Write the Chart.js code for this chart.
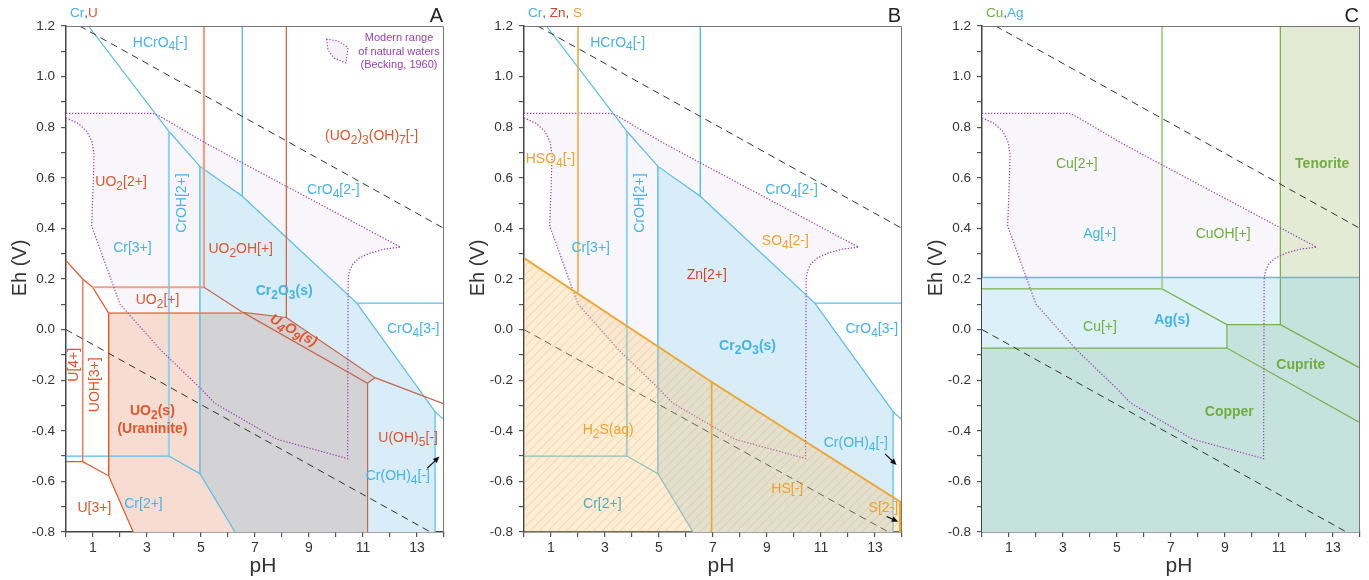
<!DOCTYPE html>
<html>
<head>
<meta charset="utf-8">
<title>Eh-pH diagrams</title>
<script src="https://cdn.jsdelivr.net/npm/chart.js@4.4.1/dist/chart.umd.min.js"></script>
<style>
  body { margin: 0; background: #fff; }
  #wrap { position: relative; width: 1369px; height: 580px; overflow: hidden; }
  canvas { position: absolute; top: 0; }
</style>
</head>
<body>
<div id="wrap">
  <canvas id="chartA" width="458" height="580" style="left:0"></canvas>
  <canvas id="chartB" width="458" height="580" style="left:458px"></canvas>
  <canvas id="chartC" width="458" height="580" style="left:916px"></canvas>
</div>
<script>
// axes
const phTicks = [1, 3, 5, 7, 9, 11, 13];
const ehTicks = [-0.8, -0.6, -0.4, -0.2, 0.0, 0.2, 0.4, 0.6, 0.8, 1.0, 1.2];

// water stability limits and natural waters (Becking, 1960)
const waterUpper = [[0.5, 1.2], [14, 0.4]];
const waterLower = [[0, 0], [13.5, -0.8]];
const naturalWaters = [[0, 0.855], [3.2, 0.855], [3.45, 0.845], [5.09, 0.742], [6.53, 0.659], [8.17, 0.566],
  [12.39, 0.326], [11.8, 0.318], [11.27, 0.303], [10.85, 0.282], [10.63, 0.26], [10.5, 0.232], [10.45, 0.2],
  [10.43, -0.51], [7.8, -0.433], [5.5, -0.29], [4.98, -0.232], [3.5, -0.08], [2.0, 0.10], [0.95, 0.41],
  [1.0, 0.55], [1.04, 0.69], [0.97, 0.74], [0.77, 0.784], [0.45, 0.815], [0, 0.837]];

// chromium
const crUpper = [[0.83, 1.2], [3.81, 0.784], [4.96, 0.645], [6.53, 0.527], [10.77, 0.105], [13.67, -0.324], [14, -0.357]];
const crHydroxy = [[3.81, 0.784], [3.81, -0.5]];
const crOxideEdge = [[4.96, 0.645], [4.96, -0.57]];
const crChromate = [[6.53, 1.2], [6.53, 0.527]];
const crO4Split = [[10.77, 0.105], [14, 0.105]];
const crOH4Edge = [[13.67, -0.324], [13.67, -0.8]];
const crLower = [[0, -0.5], [3.81, -0.5], [4.96, -0.57], [6.26, -0.8]];
const cr2o3Field = [[4.96, 0.645], [6.53, 0.527], [10.77, 0.105], [13.67, -0.324], [13.67, -0.8], [6.26, -0.8], [4.96, -0.57]];

// uranium
const uLeft = [[0, 0.273], [0.62, 0.2], [0.99, 0.167], [1.58, 0.065]];
const uUO2p = [[0.99, 0.167], [5.11, 0.167]];
const uUO2OH = [[5.11, 1.2], [5.11, 0.167]];
const uUO2pRight = [[5.11, 0.167], [6.55, 0.068]];
const uHeptahydroxo = [[8.16, 1.2], [8.16, 0.048]];
const u4o9Upper = [[6.55, 0.068], [8.16, 0.048], [11.44, -0.19], [14, -0.294]];
const u4o9Lower = [[6.55, 0.068], [11.17, -0.212], [11.44, -0.19]];
const uUO2Top = [[1.58, 0.065], [6.55, 0.065]];
const uU4 = [[0.62, 0.2], [0.62, -0.522]];
const uLower = [[0, -0.522], [0.62, -0.522], [1.58, -0.578], [2.49, -0.8]];
const uUOH3 = [[1.58, 0.065], [1.58, -0.578]];
const uUraninite = [[11.17, -0.212], [11.17, -0.8]];
const uo2Field = [[1.58, 0.065], [6.55, 0.065], [11.17, -0.212], [11.17, -0.8], [2.49, -0.8], [1.58, -0.578]];
const uo2CrField = [[4.96, 0.065], [6.55, 0.065], [11.17, -0.212], [11.17, -0.8], [6.26, -0.8], [4.96, -0.57]];
const u4o9Field = [[6.55, 0.068], [8.16, 0.048], [11.44, -0.19], [11.17, -0.212]];

// sulfur
const sSulfide = [[0, 0.283], [6.95, -0.207], [14, -0.685]];
const sBisulfate = [[2.0, 1.2], [2.0, 0.146]];
const sH2S = [[6.95, -0.207], [6.95, -0.8]];
const sS2 = [[13.93, -0.68], [13.93, -0.8]];
const sulfideField = [[0, 0.283], [6.95, -0.207], [14, -0.685], [14, -0.8], [0, -0.8]];

// copper and silver
const cuCupric = [[0, 0.161], [6.67, 0.161], [9.07, 0.02], [11.05, 0.02]];
const cuHydroxy = [[6.67, 1.2], [6.67, 0.161]];
const cuTenorite = [[11.05, 1.2], [11.05, 0.02], [14, -0.152]];
const cuCuprite = [[9.07, 0.02], [9.07, -0.073]];
const cuCopper = [[0, -0.073], [9.07, -0.073], [14, -0.368]];
const agLine = [[0, 0.206], [14, 0.206]];
const tenoriteField = [[11.05, 1.2], [14, 1.2], [14, -0.152], [11.05, 0.02]];
const agField = [[0, 0.206], [14, 0.206], [14, -0.8], [0, -0.8]];
const tenoriteAgField = [[11.05, 0.206], [14, 0.206], [14, -0.152], [11.05, 0.02]];
const copperField = [[0, -0.073], [9.07, -0.073], [14, -0.368], [14, -0.8], [0, -0.8]];
const cupriteField = [[9.07, 0.02], [11.05, 0.02], [14, -0.152], [14, -0.368], [9.07, -0.073]];

const FONT = '"Liberation Sans", Arial, Helvetica, sans-serif';
const CR = '#43b4e6', UR = '#e2542a', SO = '#efa22a', ZN = '#d8442a', CU = '#6fae3f', AG = '#45b5e8', PURPLE = '#9a40b5';
const CR_LINE = '#56bde9', CR_SOFT = '#8fd2f0', U_LINE = '#e2572b', U_SOFT = '#eba18a', U_DARK = '#c9644c';
const S_LINE = '#f0a732', CU_LINE = '#77b24a', CU_SOFT = '#a9d28c';

function pts(a) { return a.map(p => ({x: p[0], y: p[1]})); }
function stroke(a, color, width, dash) {
  return {data: pts(a), borderColor: color, borderWidth: width || 1.2, borderDash: dash || [], fill: false, pointRadius: 0, tension: 0};
}
function field(a, color) {
  return {data: pts(a), borderColor: 'rgba(0,0,0,0)', borderWidth: 0, backgroundColor: color, fill: 'shape', pointRadius: 0, tension: 0};
}

function hatch() {
  const c = document.createElement('canvas');
  c.width = 9; c.height = 9;
  const g = c.getContext('2d');
  g.fillStyle = 'rgba(244,200,110,0.30)';
  g.fillRect(0, 0, 9, 9);
  g.strokeStyle = 'rgba(230,150,120,0.28)';
  g.lineWidth = 1.2;
  g.beginPath();
  g.moveTo(-1, 10); g.lineTo(10, -1);
  g.moveTo(-1, 1); g.lineTo(1, -1);
  g.moveTo(8, 10); g.lineTo(10, 8);
  g.stroke();
  return g.createPattern(c, 'repeat');
}

// draws a formula, "_x" makes x a subscript
function drawFormula(ctx, text, x, y, o) {
  const size = o.size || 14;
  const pre = (o.italic ? 'italic ' : '') + (o.bold ? 'bold ' : '');
  const mainFont = pre + size + 'px ' + FONT;
  const subFont = pre + Math.round(size * 0.86) + 'px ' + FONT;
  const parts = [];
  for (let i = 0; i < text.length; i++) {
    const sub = text[i] === '_';
    const ch = sub ? text[++i] : text[i];
    const last = parts[parts.length - 1];
    if (last && !last.sub && !sub) last.t += ch;
    else parts.push({t: ch, sub: sub});
  }
  ctx.save();
  ctx.translate(x, y);
  if (o.rot) ctx.rotate(o.rot * Math.PI / 180);
  let w = 0;
  parts.forEach(p => { ctx.font = p.sub ? subFont : mainFont; p.w = ctx.measureText(p.t).width; w += p.w; });
  let cx = o.align === 'left' ? 0 : -w / 2;
  ctx.textBaseline = 'middle';
  ctx.textAlign = 'left';
  ctx.fillStyle = o.color;
  parts.forEach(p => {
    ctx.font = p.sub ? subFont : mainFont;
    ctx.fillText(p.t, cx, p.sub ? size * 0.32 : 0);
    cx += p.w;
  });
  ctx.restore();
}

function drawArrow(ctx, x1, y1, x2, y2) {
  const ang = Math.atan2(y2 - y1, x2 - x1);
  ctx.save();
  ctx.strokeStyle = ctx.fillStyle = '#111';
  ctx.lineWidth = 1.2;
  ctx.beginPath();
  ctx.moveTo(x1, y1);
  ctx.lineTo(x2 - 5 * Math.cos(ang), y2 - 5 * Math.sin(ang));
  ctx.stroke();
  ctx.beginPath();
  ctx.moveTo(x2, y2);
  ctx.lineTo(x2 - 7 * Math.cos(ang - 0.42), y2 - 7 * Math.sin(ang - 0.42));
  ctx.lineTo(x2 - 7 * Math.cos(ang + 0.42), y2 - 7 * Math.sin(ang + 0.42));
  ctx.closePath();
  ctx.fill();
  ctx.restore();
}

const notesPlugin = {
  id: 'notes',
  afterDatasetsDraw(chart, args, opts) {
    const {ctx, chartArea: a, scales: {x, y}} = chart;
    // frame on top and right
    ctx.save();
    ctx.strokeStyle = '#777';
    ctx.lineWidth = 1;
    ctx.beginPath();
    ctx.moveTo(a.left, a.top + 0.5);
    ctx.lineTo(a.right - 0.5, a.top + 0.5);
    ctx.lineTo(a.right - 0.5, a.bottom);
    ctx.stroke();
    ctx.restore();

    opts.labels.forEach(l => drawFormula(ctx, l[0], x.getPixelForValue(l[1]), y.getPixelForValue(l[2]), l[3]));
    (opts.arrows || []).forEach(r => drawArrow(ctx,
      x.getPixelForValue(r[0][0]), y.getPixelForValue(r[0][1]),
      x.getPixelForValue(r[1][0]), y.getPixelForValue(r[1][1])));

    // element header
    ctx.save();
    ctx.font = '13.5px ' + FONT;
    ctx.textBaseline = 'middle';
    let hx = a.left + 4;
    opts.header.forEach(h => { ctx.fillStyle = h[1]; ctx.fillText(h[0], hx, 13); hx += ctx.measureText(h[0]).width; });
    // panel letter
    ctx.font = '20px ' + FONT;
    ctx.fillStyle = '#222';
    ctx.textAlign = 'right';
    ctx.fillText(opts.letter, a.right - 1, 16);
    // axis titles
    ctx.fillStyle = '#333';
    ctx.textAlign = 'center';
    ctx.font = '21px ' + FONT;
    ctx.fillText('pH', (a.left + a.right) / 2 + 8, 566);
    ctx.translate(a.left - 46, (a.top + a.bottom) / 2 - 11);
    ctx.rotate(-Math.PI / 2);
    ctx.font = '20px ' + FONT;
    ctx.fillText('Eh (V)', 0, 0);
    ctx.restore();

    if (opts.legend) {
      const lx = a.left, ly = a.top;
      const shape = [[260.5, 13], [272, 15], [282, 21.5], [280, 37], [268, 32], [262, 24]];
      ctx.save();
      ctx.beginPath();
      shape.forEach((p, i) => i ? ctx.lineTo(lx + p[0], ly + p[1]) : ctx.moveTo(lx + p[0], ly + p[1]));
      ctx.closePath();
      ctx.fillStyle = '#f6f2f9';
      ctx.fill();
      ctx.setLineDash([1.3, 1.7]);
      ctx.strokeStyle = PURPLE;
      ctx.lineWidth = 1.1;
      ctx.stroke();
      ctx.setLineDash([]);
      ctx.fillStyle = PURPLE;
      ctx.font = '11px ' + FONT;
      ctx.textAlign = 'center';
      ctx.textBaseline = 'middle';
      ctx.fillText('Modern range', lx + 333, ly + 12.3);
      ctx.fillText('of natural waters', lx + 333, ly + 25.7);
      ctx.fillText('(Becking, 1960)', lx + 333, ly + 39);
      ctx.restore();
    }
  }
};

function panel(id, layers, notes) {
  return new Chart(document.getElementById(id), {
    type: 'line',
    data: {datasets: layers.slice().reverse()},
    options: {
      responsive: false,
      animation: false,
      devicePixelRatio: 1,
      events: [],
      layout: {padding: {top: 26, right: 14, bottom: 0, left: 0}},
      plugins: {legend: {display: false}, tooltip: {enabled: false}, notes: notes},
      scales: {
        x: {
          type: 'linear', min: 0, max: 14,
          afterFit: s => { s.height = 48; },
          ticks: {stepSize: 1, autoSkip: false, maxRotation: 0, padding: 3, color: '#333', font: {size: 14, family: FONT},
            callback: v => phTicks.includes(v) ? String(v) : ''},
          grid: {drawOnChartArea: false, drawTicks: true, tickLength: 5, color: '#555', lineWidth: 1.2},
          border: {color: '#444', width: 1.5}
        },
        y: {
          type: 'linear', min: -0.8, max: 1.2,
          afterFit: s => { s.width = 66; },
          ticks: {stepSize: 0.1, maxTicksLimit: 40, autoSkip: false, padding: 6, color: '#333', font: {size: 13.5, family: FONT},
            callback: v => ehTicks.some(t => Math.abs(t - v) < 1e-6) ? (Math.round(v * 10) / 10).toFixed(1) : ''},
          grid: {drawOnChartArea: false, drawTicks: true, tickLength: 5, color: '#555', lineWidth: 1.2},
          border: {color: '#444', width: 1.5}
        }
      }
    },
    plugins: [notesPlugin]
  });
}

const LAVENDER = '#f9f6fb', CR_FILL = '#d8edf8', U_FILL = '#f7dcd2', GRAY = '#d3d3d5';
const water = [stroke(waterUpper, '#333', 1, [7, 5]), stroke(waterLower, '#333', 1, [7, 5])];
const nwLine = stroke(naturalWaters.concat([naturalWaters[0]]), PURPLE, 1.2, [1.3, 1.7]);
const crStrokes = [stroke(crUpper, CR_LINE), stroke(crHydroxy, CR_SOFT, 2), stroke(crOxideEdge, CR_LINE, 1.4),
  stroke(crChromate, CR_LINE, 1.4), stroke(crO4Split, CR_LINE), stroke(crOH4Edge, CR_LINE), stroke(crLower, CR_LINE)];

panel('chartA', [
  field(naturalWaters, LAVENDER),
  field(cr2o3Field, CR_FILL),
  field(uo2Field, U_FILL),
  field(uo2CrField, GRAY),
  field(u4o9Field, GRAY),
  ...crStrokes,
  stroke(uLeft, U_LINE), stroke(uUO2p, U_SOFT, 2), stroke(uUO2OH, U_SOFT, 2.2), stroke(uUO2pRight, U_DARK),
  stroke(uHeptahydroxo, U_LINE), stroke(u4o9Upper, U_DARK), stroke(u4o9Lower, U_DARK), stroke(uUO2Top, '#e98466', 1.8),
  stroke(uU4, '#e98466', 1.6), stroke(uLower, U_LINE), stroke(uUOH3, U_LINE, 1.4), stroke(uUraninite, U_DARK),
  ...water,
  nwLine
], {
  letter: 'A',
  legend: true,
  header: [['Cr', CR], [',', '#555'], ['U', UR]],
  labels: [
    ['HCrO_4[-]', 3.49, 1.134, {color: CR}],
    ['(UO_2)_3(OH)_7[-]', 11.32, 0.764, {color: UR}],
    ['UO_2[2+]', 2.04, 0.582, {color: UR}],
    ['CrOH[2+]', 4.32, 0.50, {color: CR, rot: -90}],
    ['CrO_4[2-]', 9.9, 0.55, {color: CR}],
    ['Cr[3+]', 2.46, 0.322, {color: CR}],
    ['UO_2OH[+]', 6.47, 0.318, {color: UR}],
    ['Cr_2O_3(s)', 8.08, 0.151, {color: CR, bold: true}],
    ['UO_2[+]', 3.39, 0.115, {color: UR}],
    ['U_4O_9(s)', 8.42, -0.004, {color: UR, bold: true, italic: true, rot: 29}],
    ['CrO_4[3-]', 12.86, 0.0, {color: CR}],
    ['U[4+]', 0.3, -0.139, {color: UR, rot: -90}],
    ['UOH[3+]', 1.07, -0.218, {color: UR, rot: -90}],
    ['UO_2(s)', 3.2, -0.324, {color: UR, bold: true}],
    ['(Uraninite)', 3.2, -0.394, {color: UR, bold: true}],
    ['U(OH)_5[-]', 12.67, -0.429, {color: UR}],
    ['Cr(OH)_4[-]', 12.29, -0.581, {color: CR}],
    ['U[3+]', 1.05, -0.706, {color: UR}],
    ['Cr[2+]', 2.87, -0.689, {color: CR}]
  ],
  arrows: [[[13.38, -0.548], [13.83, -0.502]]]
});

panel('chartB', [
  field(naturalWaters, LAVENDER),
  field(cr2o3Field, CR_FILL),
  ...crStrokes,
  ...water,
  nwLine,
  field(sulfideField, hatch()),
  stroke(sBisulfate, S_LINE, 1.5), stroke(sH2S, S_LINE, 1.6), stroke(sS2, S_LINE, 2.2), stroke(sSulfide, S_LINE, 2)
], {
  letter: 'B',
  header: [['Cr', CR], [', ', '#555'], ['Zn', ZN], [', ', '#555'], ['S', SO]],
  labels: [
    ['HCrO_4[-]', 3.47, 1.134, {color: CR}],
    ['HSO_4[-]', 0.98, 0.675, {color: SO}],
    ['CrOH[2+]', 4.3, 0.50, {color: CR, rot: -90}],
    ['CrO_4[2-]', 9.91, 0.55, {color: CR}],
    ['Cr[3+]', 2.47, 0.322, {color: CR}],
    ['SO_4[2-]', 9.68, 0.349, {color: SO}],
    ['Zn[2+]', 6.77, 0.217, {color: ZN}],
    ['Cr_2O_3(s)', 8.28, -0.064, {color: CR, bold: true}],
    ['CrO_4[3-]', 12.88, 0.0, {color: CR}],
    ['H_2S(aq)', 3.12, -0.399, {color: SO}],
    ['Cr(OH)_4[-]', 12.29, -0.449, {color: CR}],
    ['HS[-]', 9.75, -0.631, {color: SO}],
    ['S[2-]', 13.31, -0.706, {color: SO}],
    ['Cr[2+]', 2.9, -0.689, {color: '#52abbd'}]
  ],
  arrows: [[[13.37, -0.491], [13.8, -0.535]], [[13.43, -0.739], [13.86, -0.759]]]
});

panel('chartC', [
  field(naturalWaters, LAVENDER),
  field(tenoriteField, '#e3ebd5'),
  field(agField, '#dcf0f9'),
  field(copperField, '#c6e2dc'),
  field(cupriteField, '#c6e2dc'),
  field(tenoriteAgField, '#c6e2dc'),
  stroke(cuCupric, CU_LINE), stroke(cuHydroxy, CU_SOFT, 2), stroke(cuTenorite, CU_LINE, 1.3),
  stroke(cuCuprite, CU_LINE), stroke(cuCopper, CU_LINE),
  stroke(agLine, '#5bbde8', 1.4),
  ...water,
  nwLine
], {
  letter: 'C',
  header: [['Cu', CU], [',', '#555'], ['Ag', AG]],
  labels: [
    ['Cu[2+]', 3.51, 0.655, {color: CU}],
    ['Tenorite', 12.6, 0.655, {color: CU, bold: true}],
    ['Ag[+]', 4.36, 0.379, {color: AG}],
    ['CuOH[+]', 8.93, 0.379, {color: CU}],
    ['Cu[+]', 4.37, 0.01, {color: CU}],
    ['Ag(s)', 7.04, 0.036, {color: AG, bold: true}],
    ['Cuprite', 11.81, -0.139, {color: CU, bold: true}],
    ['Copper', 9.16, -0.326, {color: CU, bold: true}]
  ]
});
</script>
</body>
</html>
